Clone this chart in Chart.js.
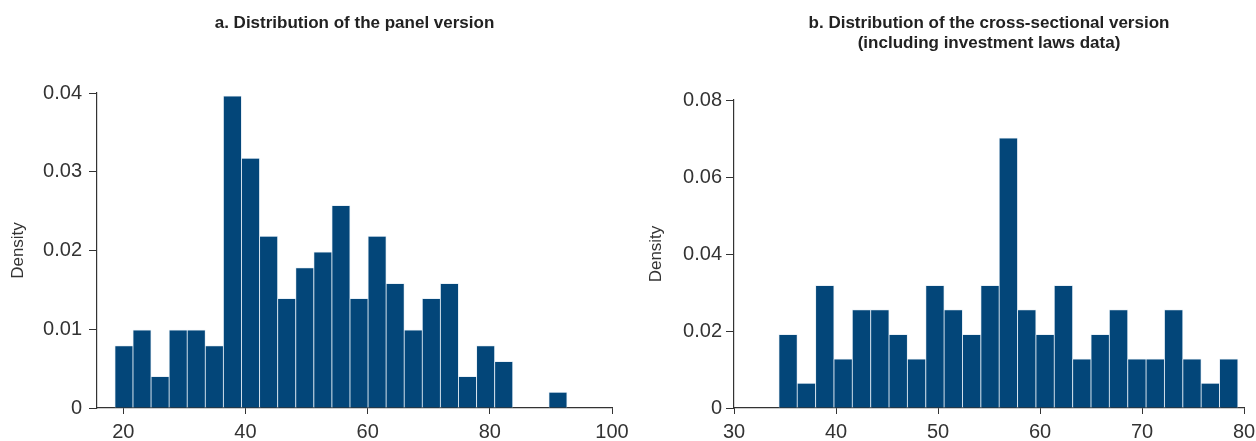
<!DOCTYPE html>
<html>
<head>
<meta charset="utf-8">
<script src="https://cdn.jsdelivr.net/npm/chart.js@4/dist/chart.umd.min.js"></script>
<style>
  html, body { margin: 0; padding: 0; background: #fff; }
  #wrap { position: relative; width: 1256px; height: 441px; }
  .panel { position: absolute; top: 0; height: 441px; }
</style>
</head>
<body>
<div id="wrap">
  <div class="panel" style="left:0;width:640px"><canvas id="panelA"></canvas></div>
  <div class="panel" style="left:640px;width:616px"><canvas id="panelB"></canvas></div>
</div>
<script>
// --- data: panel a (bin centres, density) ---
var panelBins = [20.11, 23.07, 26.03, 28.99, 31.95, 34.91, 37.87, 40.83, 43.79, 46.75,
                 49.71, 52.67, 55.63, 58.59, 61.55, 64.51, 67.47, 70.43, 73.39, 76.35,
                 79.31, 82.27, 85.23, 88.19, 91.15];
var panelDensity = [0.0079, 0.0099, 0.0040, 0.0099, 0.0099, 0.0079, 0.0396, 0.0317, 0.0218, 0.0139,
                    0.0178, 0.0198, 0.0257, 0.0139, 0.0218, 0.0158, 0.0099, 0.0139, 0.0158, 0.0040,
                    0.0079, 0.0059, 0, 0, 0.0020];
var panelXTicks = [20, 40, 60, 80, 100];
var panelYTicks = [0, 0.01, 0.02, 0.03, 0.04];

// --- data: panel b (bin centres, density) ---
var crossBins = [35.3, 37.1, 38.9, 40.7, 42.5, 44.3, 46.1, 47.9, 49.7, 51.5,
                 53.3, 55.1, 56.9, 58.7, 60.5, 62.3, 64.1, 65.9, 67.7, 69.5,
                 71.3, 73.1, 74.9, 76.7, 78.5];
var crossDensity = [0.0191, 0.0064, 0.0318, 0.0127, 0.0255, 0.0255, 0.0191, 0.0127, 0.0318, 0.0255,
                    0.0191, 0.0318, 0.0701, 0.0255, 0.0191, 0.0318, 0.0127, 0.0191, 0.0255, 0.0127,
                    0.0127, 0.0255, 0.0127, 0.0064, 0.0127];
var crossXTicks = [30, 40, 50, 60, 70, 80];
var crossYTicks = [0, 0.02, 0.04, 0.06, 0.08];

var BAR = '#034679';
var INK = '#333333';
var FONT = '"Liberation Sans", Arial, sans-serif';

// draws the panel heading centred over the plot area
var panelTitle = {
    id: 'panelTitle',
    afterDraw: function (chart, args, opts) {
        var ctx = chart.ctx;
        var area = chart.chartArea;
        ctx.save();
        ctx.fillStyle = '#222';
        ctx.font = 'bold 17px ' + FONT;
        ctx.textAlign = 'center';
        ctx.textBaseline = 'alphabetic';
        var cx = (area.left + area.right) / 2;
        for (var i = 0; i < opts.lines.length; i++) {
            ctx.fillText(opts.lines[i], cx, 28 + i * 19.5);
        }
        ctx.restore();
    }
};

function makeChart(id, cfg) {
    var pts = [];
    for (var i = 0; i < cfg.bins.length; i++) {
        pts.push({ x: cfg.bins[i], y: cfg.density[i] });
    }
    return new Chart(document.getElementById(id), {
        type: 'bar',
        data: {
            datasets: [{
                data: pts,
                backgroundColor: BAR,
                borderColor: 'rgba(215,228,240,0.9)',
                borderWidth: 0.8,
                barPercentage: 1,
                categoryPercentage: 1
            }]
        },
        plugins: [panelTitle],
        options: {
            responsive: true,
            maintainAspectRatio: false,
            animation: false,
            layout: { padding: { top: cfg.top, right: cfg.padRight, left: 0, bottom: 0 } },
            plugins: {
                legend: { display: false },
                tooltip: { enabled: false },
                panelTitle: { lines: cfg.title }
            },
            scales: {
                x: {
                    type: 'linear',
                    min: cfg.xMin,
                    max: cfg.xMax,
                    offset: false,
                    afterBuildTicks: function (axis) {
                        axis.ticks = cfg.xTicks.map(function (v) { return { value: v }; });
                    },
                    afterFit: function (axis) {
                        axis.height = 33;
                        // let the last label hang past the plot edge like the original
                        axis.paddingLeft = 0;
                        axis.paddingRight = 0;
                    },
                    grid: { display: true, offset: false, drawOnChartArea: false, drawTicks: true, tickLength: 6, color: INK, lineWidth: 1 },
                    border: { display: true, color: INK, width: 1.2 },
                    ticks: {
                        padding: 6,
                        color: INK,
                        maxRotation: 0,
                        autoSkip: false,
                        font: { family: FONT, size: 20 },
                        callback: function (v) { return String(v); }
                    }
                },
                y: {
                    min: 0,
                    max: cfg.yMax,
                    afterBuildTicks: function (axis) {
                        axis.ticks = cfg.yTicks.map(function (v) { return { value: v }; });
                    },
                    afterFit: function (axis) { axis.width = cfg.yWidth; },
                    grid: { display: true, offset: false, drawOnChartArea: false, drawTicks: true, tickLength: 8, color: INK, lineWidth: 1 },
                    border: { display: true, color: INK, width: 1.2 },
                    title: {
                        display: true,
                        text: 'Density',
                        color: INK,
                        font: { family: FONT, size: 17 },
                        padding: { top: cfg.titlePad, bottom: 0 }
                    },
                    ticks: {
                        padding: cfg.tickPad,
                        color: INK,
                        autoSkip: false,
                        font: { family: FONT, size: 20 },
                        callback: function (v) { return String(v); }
                    }
                }
            }
        }
    });
}

makeChart('panelA', {
    bins: panelBins, density: panelDensity,
    xTicks: panelXTicks, yTicks: panelYTicks,
    xMin: 15.7, xMax: 100, yMax: 0.04,
    top: 93, padRight: 28, yWidth: 97, titlePad: 8, tickPad: 7,
    title: ['a. Distribution of the panel version']
});

makeChart('panelB', {
    bins: crossBins, density: crossDensity,
    xTicks: crossXTicks, yTicks: crossYTicks,
    xMin: 30, xMax: 80, yMax: 0.08,
    top: 100, padRight: 12, yWidth: 94, titlePad: 6, tickPad: 4,
    title: ['b. Distribution of the cross-sectional version', '(including investment laws data)']
});
</script>
</body>
</html>
